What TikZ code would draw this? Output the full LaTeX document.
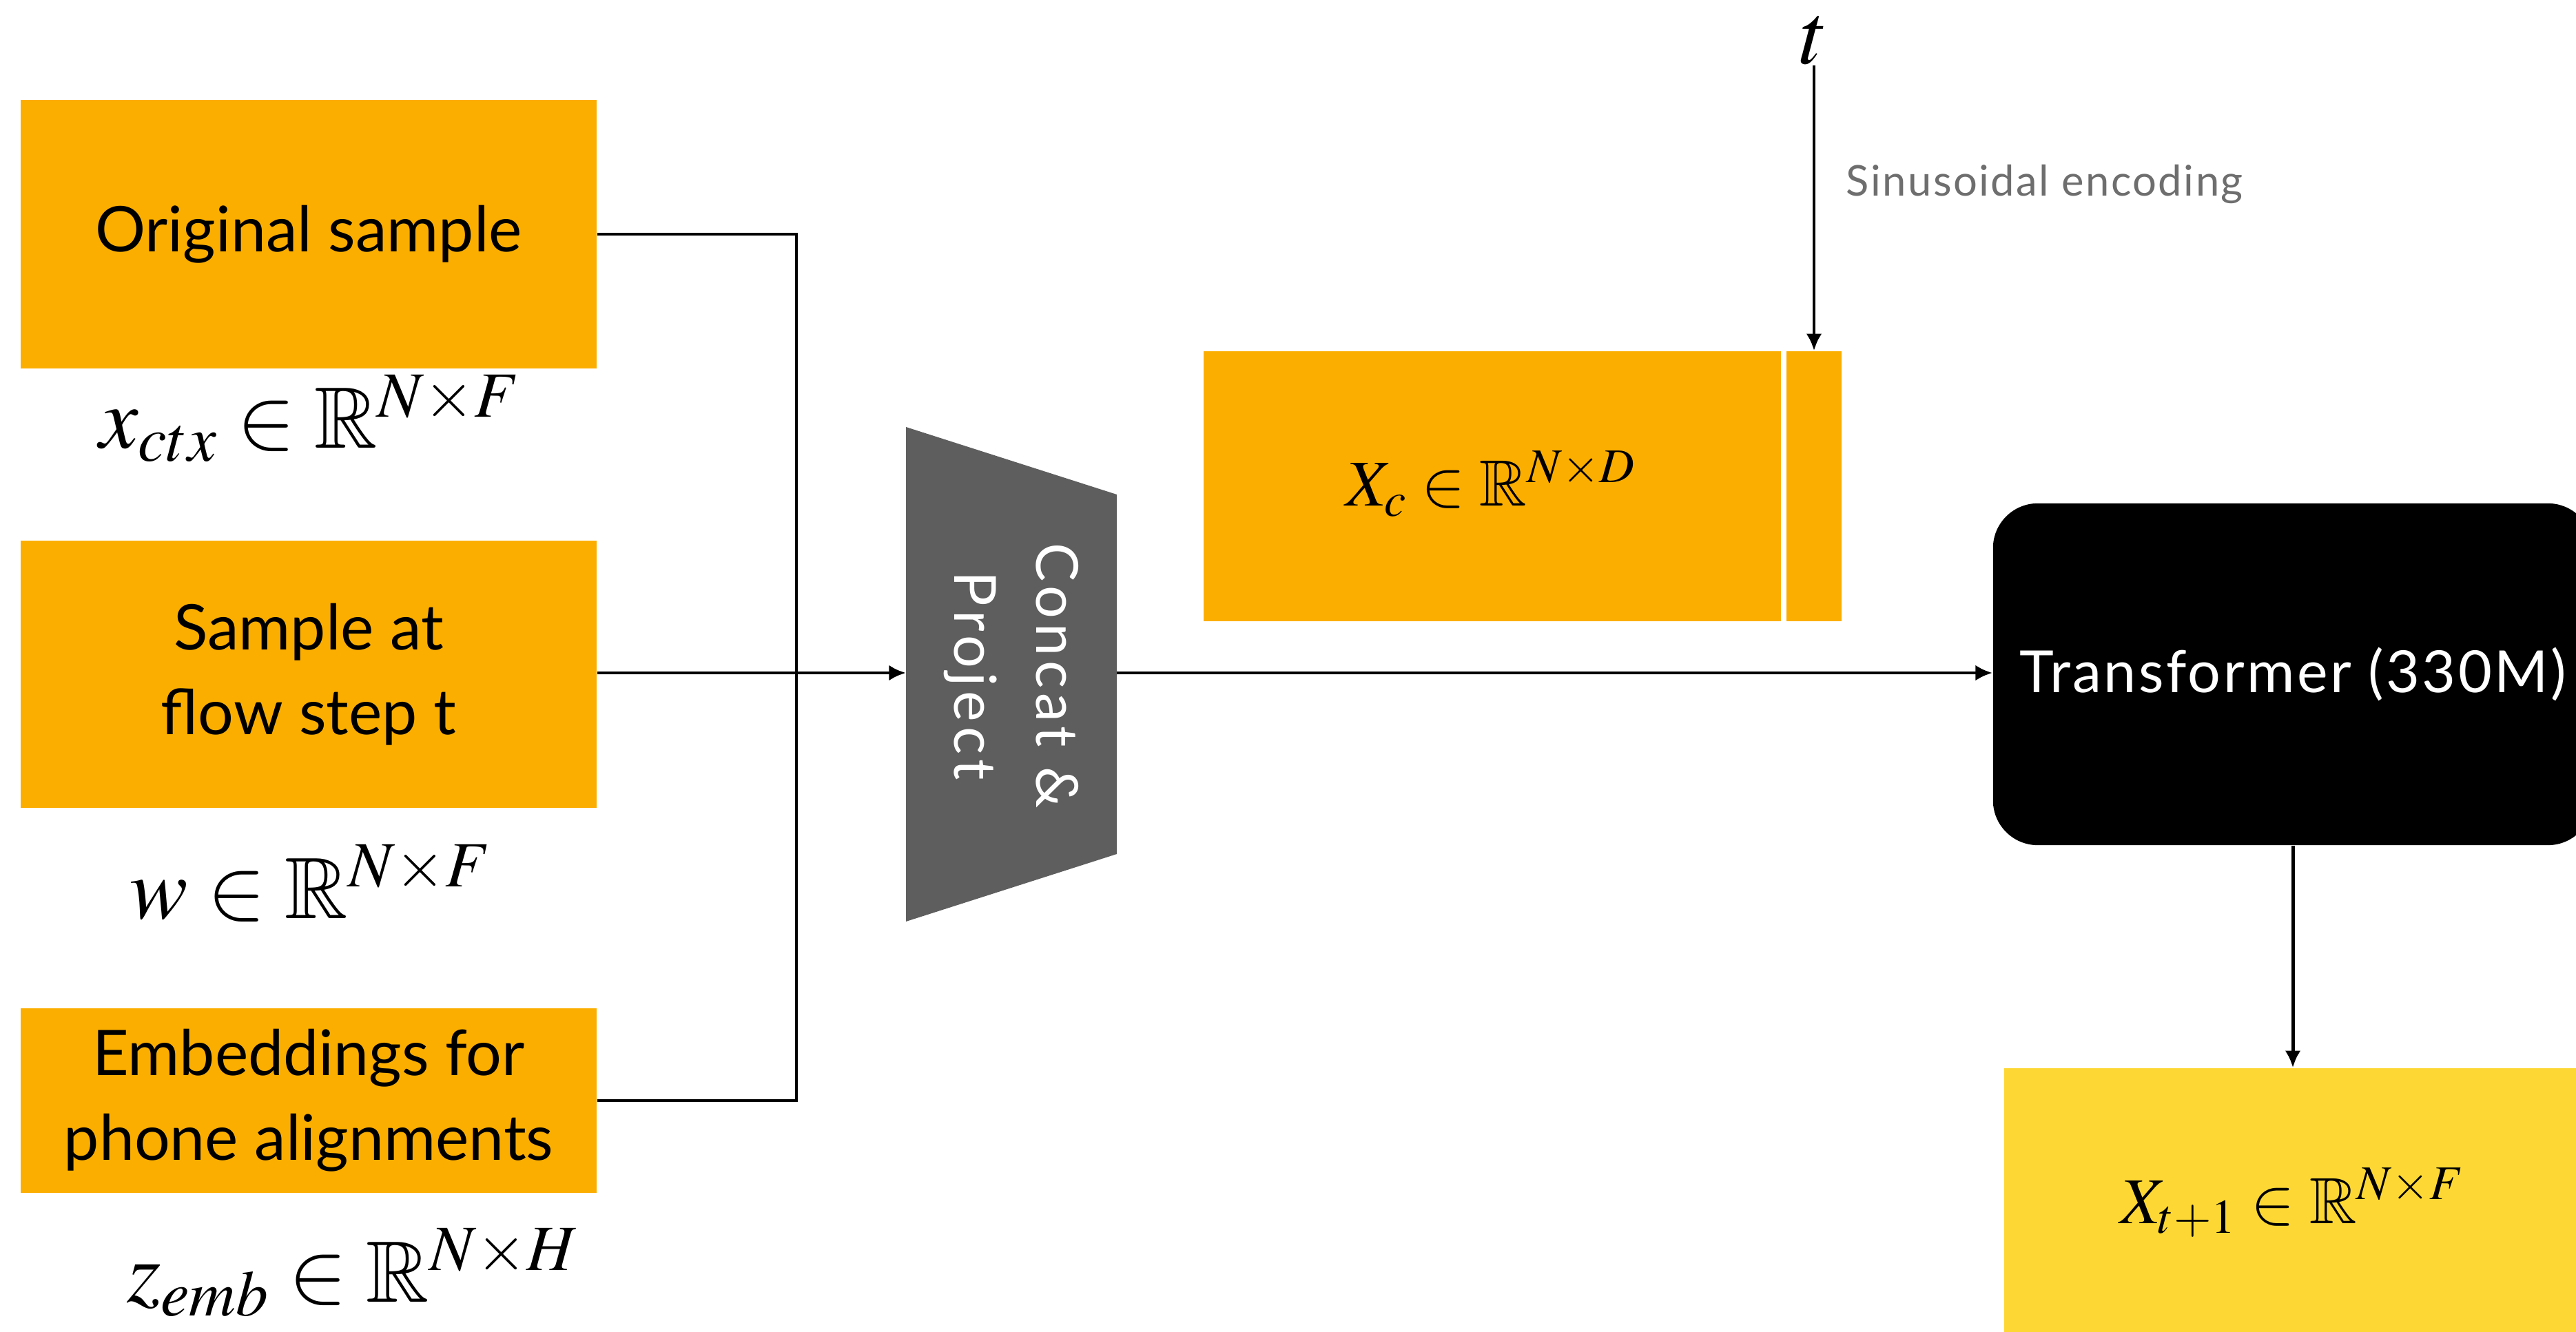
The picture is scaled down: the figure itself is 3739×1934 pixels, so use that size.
\documentclass[tikz,border=0pt]{standalone}
\usepackage{mathptmx}
\usepackage{amssymb}
\usepackage[no-math]{fontspec}
\setmainfont{Lato}
\newfontfamily\trackfont[LetterSpace=8]{Lato}
\newfontfamily\lighttrack[LetterSpace=4]{Lato}
\usetikzlibrary{arrows.meta}
\definecolor{orng}{RGB}{252,174,0}
\definecolor{yel}{RGB}{253,216,53}
\definecolor{trapgray}{RGB}{94,94,94}
\definecolor{notegray}{RGB}{110,110,110}
\tikzset{
  inbox/.style={fill=orng, minimum width=8.36cm, inner sep=0pt, align=center,
    font=\fontsize{26}{35}\selectfont},
  mathlbl/.style={anchor=base, inner sep=0pt, font=\fontsize{36}{40}\selectfont},
  conn/.style={line width=1.4pt},
  arr/.style={line width=1.4pt, -{Latex[length=7pt,width=6.5pt]}},
}
\begin{document}
\begin{tikzpicture}[x=0.01cm, y=-0.01cm]
\useasboundingbox (0,0) rectangle (3739,1934);

% input boxes
\node[inbox, minimum height=3.90cm] (b1) at (448,340) {Original sample};
\node[inbox, minimum height=3.88cm] (b2) at (448,979) {Sample at\\flow step t};
\node[inbox, minimum height=2.68cm] (b3) at (448,1598) {Embeddings for\\phone alignments};

% labels
\node[mathlbl] (l1) at (450,651) {$x_{ctx}\in\mathbb{R}^{N\times F}$};
\node[mathlbl] (l2) at (451,1333) {$w\in\mathbb{R}^{N\times F}$};
\node[mathlbl] (l3) at (512,1890) {$z_{emb}\in\mathbb{R}^{N\times H}$};

% concat & project trapezoid
\fill[trapgray] (1315,620) -- (1621,718) -- (1621,1240) -- (1315,1338) -- cycle;
\coordinate (trapL) at (1315,977);
\coordinate (trapR) at (1621,977);
\node[rotate=-90, text=white, align=center, inner sep=0pt,
  font=\trackfont\fontsize{24}{34}\selectfont] (cp) at (1468,981) {Concat \&\\Project};

% Xc boxes
\node[fill=orng, minimum width=8.38cm, minimum height=3.92cm, inner sep=0pt] (xc) at (2166,706) {};
\node[fill=orng, minimum width=0.80cm, minimum height=3.92cm, inner sep=0pt] (tb) at (2633,706) {};
\node[anchor=base, inner sep=0pt, font=\fontsize{27}{30}\selectfont] (xcl) at (2164,735) {$X_c\in\mathbb{R}^{N\times D}$};

% t and sinusoidal encoding
\node[anchor=south, inner sep=0pt, font=\fontsize{36}{40}\selectfont] (t) at (2633,95) {$t$};
\node[anchor=west, inner sep=0pt, text=notegray,
  font=\lighttrack\fontsize{17.5}{22}\selectfont] (sin) at (2679,267) {Sinusoidal encoding};

% transformer
\node[fill=black, rounded corners=0.65cm, minimum width=8.70cm, minimum height=4.96cm,
  inner sep=0pt, text=white, font=\lighttrack\fontsize{24}{30}\selectfont] (tr) at (3328,979) {Transformer (330M)};

% output
\node[fill=yel, minimum width=8.38cm, minimum height=4.00cm, inner sep=0pt] (out) at (3328,1751) {};
\node[anchor=base, inner sep=0pt, font=\fontsize{27}{30}\selectfont] (outl) at (3327,1776) {$X_{t+1}\in\mathbb{R}^{N\times F}$};

% connectors
\coordinate (jn) at (1156,977);
\draw[conn] (b1.east) -| (jn);
\draw[conn] (b3.east) -| (jn);
\draw[arr] (b2.east |- jn) -- (trapL);
\draw[arr] (trapR) -- (tr.west |- trapR);
\draw[arr] (t.south) -- (tb.north);
\draw[arr] (tr.south -| out.north) -- (out.north);
\end{tikzpicture}
\end{document}
